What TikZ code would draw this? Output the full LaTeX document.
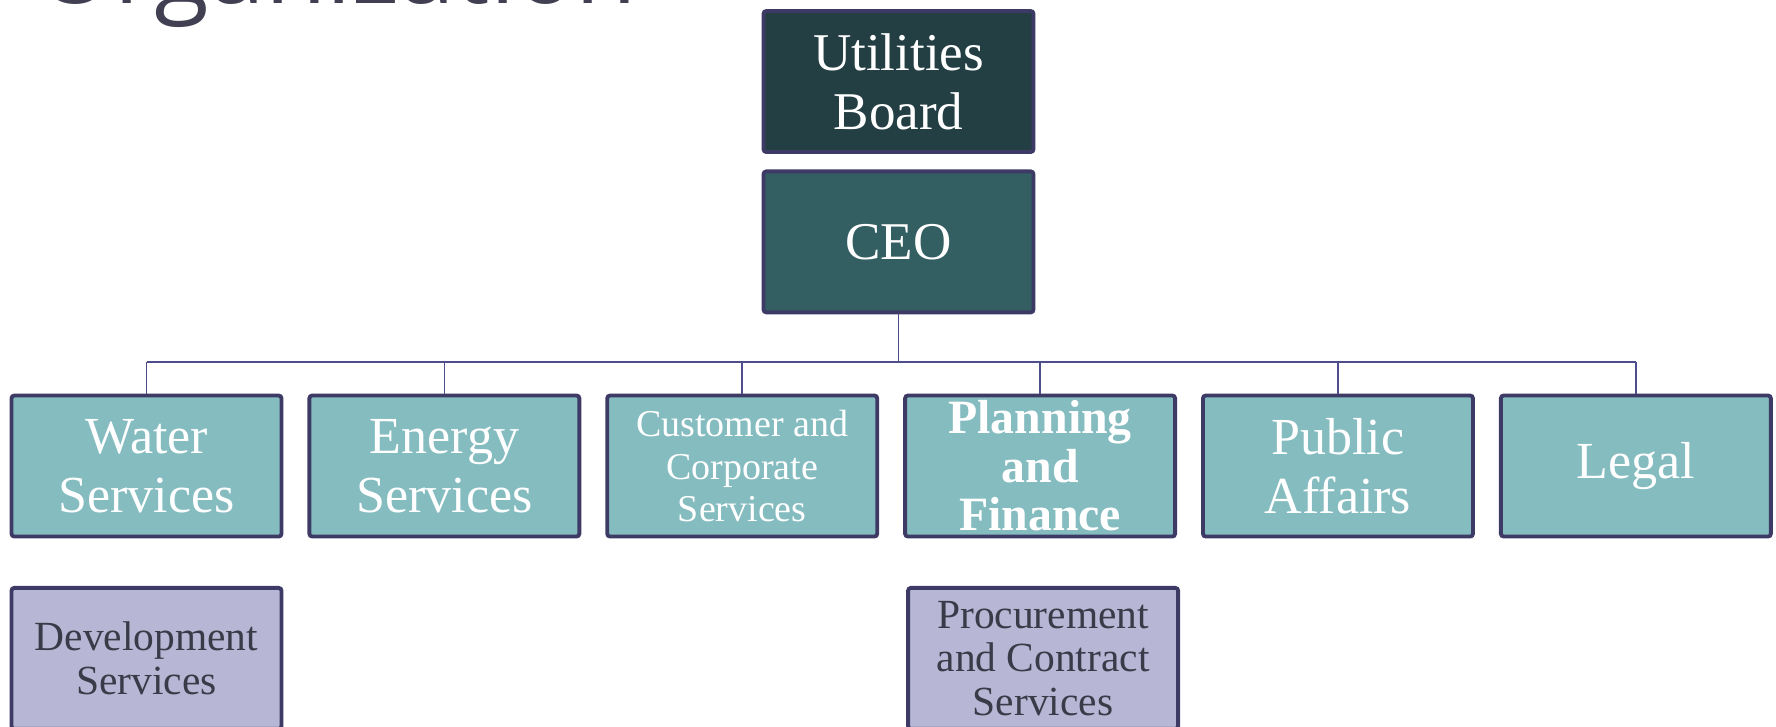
\documentclass[tikz,border=0pt]{standalone}
\usepackage{fontspec}
\setmainfont{Liberation Serif}
\newfontfamily\titlefont{Open Sans}
\usetikzlibrary{positioning,calc}

\definecolor{ubfill}{HTML}{233F44}
\definecolor{ceofill}{HTML}{335F63}
\definecolor{deptfill}{HTML}{85BCC0}
\definecolor{subfill}{HTML}{B7B7D5}
\definecolor{edge}{HTML}{3D3A66}
\definecolor{linkcol}{HTML}{4E4E8C}
\definecolor{titlegray}{HTML}{404052}
\definecolor{subtext}{HTML}{3A3A48}

\begin{document}
\begin{tikzpicture}[
            node distance=0.155cm and 0.24cm,
            box/.style={draw=edge, line width=1.1pt, rounded corners=0.8pt, rectangle, align=center,
                minimum width=2.70cm, minimum height=1.41cm, inner sep=0pt},
            top/.style={box, text=white, font=\fontsize{15.1}{16.8}\selectfont},
            dept/.style={box, fill=deptfill, text=white, font=\fontsize{14.8}{16.8}\selectfont},
            sub/.style={box, fill=subfill, text=subtext, font=\fontsize{11.8}{12.4}\selectfont},
            link/.style={draw=linkcol, line width=0.45pt}
        ]
        \useasboundingbox (0,0) rectangle (17.76,-7.26);
        \clip (0,0) rectangle (17.76,-7.26);

        \node[anchor=base west, inner sep=0pt, text=titlegray,
            font=\titlefont\fontsize{28.5}{30}\selectfont] (T) at (0.36,-0.03) {Organization};

        \node[top, fill=ubfill] (UB) at (8.985,-0.815) {Utilities\\Board};
        \node[top, fill=ceofill, below=of UB] (CEO) {CEO};

        \node[dept] (W) at (1.465,-4.66) {Water\\Services};
        \node[dept, right=of W] (E) {Energy\\Services};
        \node[dept, right=of E, font=\fontsize{10.8}{12}\selectfont] (C) {Customer and\\Corporate\\Services};
        \node[dept, right=of C, font=\bfseries\fontsize{13.6}{13.8}\selectfont] (P) {Planning\\and\\Finance};
        \node[dept, right=of P] (PA) {Public\\Affairs};
        \node[dept, right=of PA] (L) {Legal};

        \node[sub, below=0.475cm of W] (D) {Development\\Services};
        \node[sub, below=0.475cm of P, xshift=0.03cm] (PC) {Procurement\\and Contract\\Services};

        \coordinate (bus) at (8.91,-3.62);

        \draw[link] (CEO.south) -- (CEO.south |- bus);
        \draw[link] (W.north |- bus) -- (L.north |- bus);
        \foreach \n in {W,E,C,P,PA,L}
            \draw[link] (\n.north |- bus) -- (\n.north);
    \end{tikzpicture}
\end{document}
